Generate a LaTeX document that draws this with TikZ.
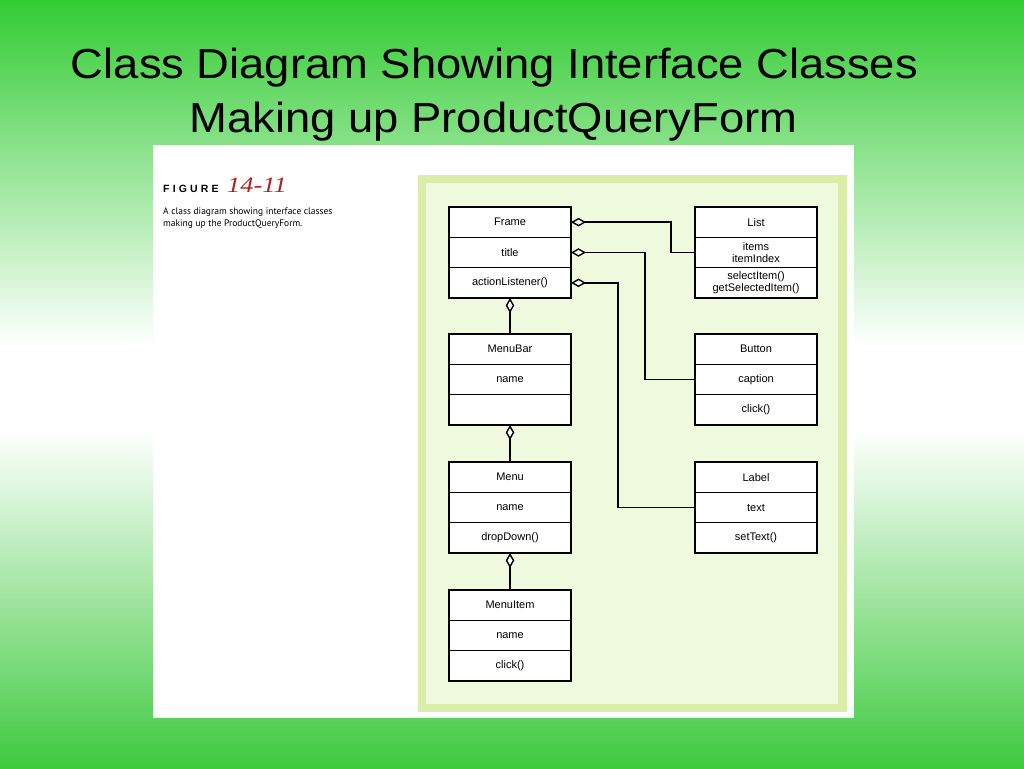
\documentclass[tikz,border=0pt]{standalone}
\usepackage{fontspec}
\setmainfont{Liberation Sans}
\newfontfamily\capfont{PT Sans}
\newfontfamily\figfont[LetterSpace=30]{Liberation Sans}
\newfontfamily\numfont{Liberation Serif}
\usetikzlibrary{arrows.meta}
\definecolor{slidegreenA}{RGB}{51,204,51}
\definecolor{slidegreenB}{RGB}{62,202,62}
\definecolor{frameband}{RGB}{218,238,170}
\definecolor{framefill}{RGB}{239,249,222}
\definecolor{figred}{RGB}{180,30,30}
\newcommand\umlclass[6]{%
  \node[classrow, anchor=north west] (#1-a) at (#2,#3) {#4};
  \node[classrow, anchor=north] (#1-b) at (#1-a.south) {#5};
  \node[classrow, anchor=north] (#1-c) at (#1-b.south) {#6};
}
\begin{document}
\begin{tikzpicture}[x=1pt,y=-1pt,
  classrow/.style={draw, fill=white, line width=1.5pt, minimum width=122, minimum height=30.33,
    inner sep=0pt, outer sep=0pt, font=\fontsize{11}{12.5}\selectfont, align=center},
  agg/.style={line width=1.6pt, -{Diamond[fill=white, length=15pt, width=8.5pt, line width=1.4pt]}},
  titletext/.style={anchor=base, font=\fontsize{42}{48}\selectfont}
]
\useasboundingbox (0,0) rectangle (1024,768);
% background
\shade[top color=slidegreenA, bottom color=white] (0,0) rectangle (1024,346);
\fill[white] (0,345) rectangle (1024,431);
\shade[top color=white, bottom color=slidegreenB] (0,430) rectangle (1024,768);
% title
\node[titletext] (t1) at (494.5,78) {\scalebox{1.08}[1]{Class Diagram Showing Interface Classes}};
\node[titletext] (t2) at (493.5,132) {\scalebox{1.08}[1]{Making up ProductQueryForm}};
% panel
\fill[white] (153,145) rectangle (854,718);
\fill[frameband] (418,175) rectangle (847,712);
\fill[framefill] (426,183) rectangle (838,704);
% figure caption
\node[anchor=base west, inner sep=0pt, font=\figfont\bfseries\fontsize{10.5}{12}\selectfont] (fig) at (163,192) {FIGURE};
\node[anchor=base west, inner sep=0pt, text=figred, font=\numfont\itshape\fontsize{22}{24}\selectfont] (num) at (227,192) {\scalebox{1.2}[1]{14-11}};
\node[anchor=base west, inner sep=0pt, font=\capfont\fontsize{9.5}{12}\selectfont] (cap1) at (163,214) {A class diagram showing interface classes};
\node[anchor=base west, inner sep=0pt, font=\capfont\fontsize{9.5}{12}\selectfont] (cap2) at (163,226) {making up the ProductQueryForm.};
% classes
\umlclass{frame}{449}{207}{Frame}{title}{actionListener()}
\umlclass{list}{695}{207}{List}{items\\itemIndex}{selectItem()\\getSelectedItem()}
\umlclass{menubar}{449}{334}{MenuBar}{name}{}
\umlclass{button}{695}{334}{Button}{caption}{click()}
\umlclass{menu}{449}{462}{Menu}{name}{dropDown()}
\umlclass{label}{695}{462}{Label}{text}{setText()}
\umlclass{menuitem}{449}{590}{MenuItem}{name}{click()}
% connectors
\draw[agg] (list-b.west) -- ++(-24,0) |- (frame-a.east);
\draw[agg] (button-b.west) -- ++(-50,0) |- (frame-b.east);
\draw[agg] (label-b.west) -- ++(-77,0) |- (frame-c.east);
\draw[agg] (menubar-a.north) -- (frame-c.south);
\draw[agg] (menu-a.north) -- (menubar-c.south);
\draw[agg] (menuitem-a.north) -- (menu-c.south);
\end{tikzpicture}
\end{document}
